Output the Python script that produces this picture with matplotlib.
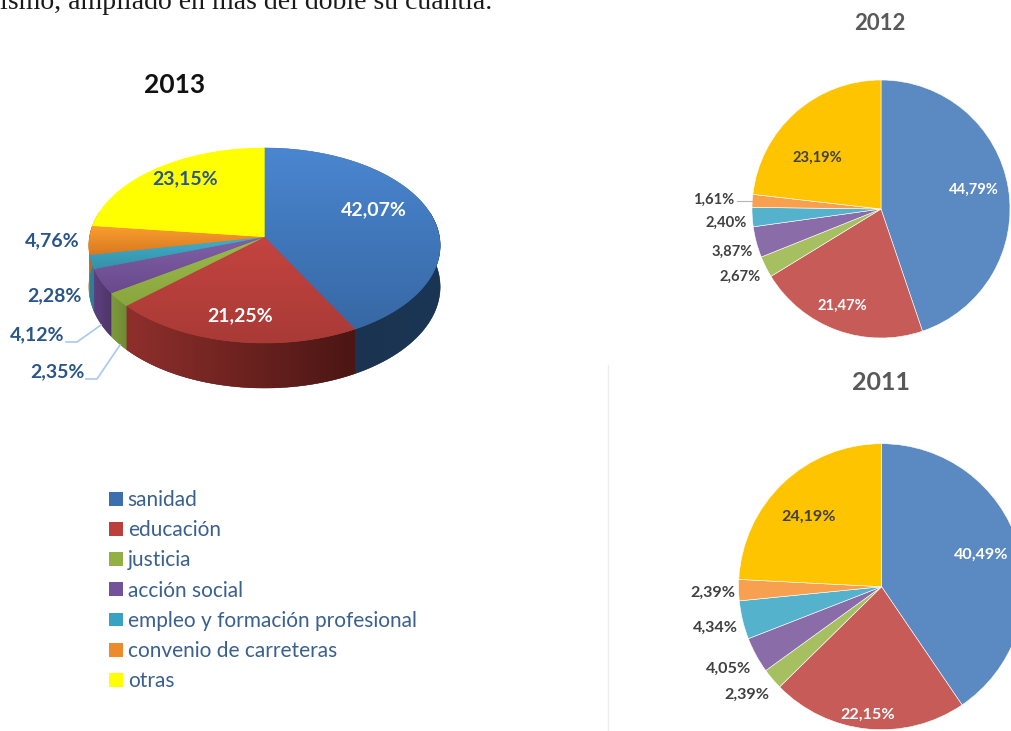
import numpy as np
import matplotlib
matplotlib.use('Agg')
import matplotlib.pyplot as plt
from matplotlib.colors import to_rgb
from matplotlib.patches import Patch

W, H = 1012, 731

categories = ['sanidad', 'educación', 'justicia', 'acción social',
              'empleo y formación profesional', 'convenio de carreteras', 'otras']
values_2013 = [42.07, 21.25, 2.35, 4.12, 2.28, 4.76, 23.15]
values_2012 = [44.79, 21.47, 2.67, 3.87, 2.40, 1.61, 23.19]
values_2011 = [40.49, 22.15, 2.39, 4.05, 4.34, 2.39, 24.19]

flat_colors = ['#5b8ac2', '#c65b58', '#a5bf61', '#8a6ca8', '#55b2cd', '#f7a04f', '#ffc400']
top_light = ['#4a86d0', '#c44440', '#9aba4a', '#8060a8', '#3fb0cc', '#fba030', '#ffff00']
top_dark = ['#3768a5', '#a93a36', '#8aa63f', '#6a4a8c', '#3590a8', '#d87820', '#ffff00']
wall_left = ['#1a3350', '#8f2f2c', '#7f9a3b', '#5d4080', '#2f7f96', '#b86a20', '#b0b000']
wall_right = ['#1b3655', '#4b1614', '#6f8a35', '#4d3568', '#2f7f96', '#b86a20', '#b0b000']
legend_colors = ['#3c6fae', '#bb403c', '#93b047', '#74529a', '#38a3c0', '#ec8a2c', '#ffff00']

fig = plt.figure(figsize=(W / 100, H / 100), dpi=100, facecolor='white')
plt.rcParams['font.family'] = ['Lato', 'DejaVu Sans']


def fmt(v):
    return f'{v:.2f}'.replace('.', ',') + '%'


def flat_pie(values, cx, cy, r):
    # pie axes placed by pixels, 2011 runs off the right edge like the original
    pax = fig.add_axes([(cx - r) / W, 1 - (cy + r) / H, 2 * r / W, 2 * r / H])
    pax.pie(values, colors=flat_colors, startangle=90, counterclock=False, radius=1,
            wedgeprops={'linewidth': 0.4, 'edgecolor': '#ffffff'})
    pax.set_xlim(-1, 1)
    pax.set_ylim(-1, 1)


flat_pie(values_2012, 881, 209, 129)
flat_pie(values_2011, 881.6, 586.7, 143)

ax = fig.add_axes([0, 0, 1, 1], zorder=5)
ax.patch.set_alpha(0)
ax.axis('off')

# 3d pie, perspective projection of a unit circle
CX, CY = 264.5, 237
A, B, K = 175, 96.8, 0.0872
WALL = 41


def project(theta):
    u = np.sin(theta)
    v = np.cos(theta)
    s = 1 / (1 + K * v)
    return CX + A * u * s, CY - B * v * s


def project_low(theta):
    x, y = project(theta)
    return x, y + WALL + 4 * (-np.cos(theta))


def shaded(xs, ys, c0, c1, horizontal, z):
    # polygon filled with a two colour gradient, image clipped to the polygon
    patch = ax.fill(xs, ys, color=c1, lw=0.3, zorder=z)[0]
    grad = np.linspace(np.array(to_rgb(c0)), np.array(to_rgb(c1)), 64)
    grad = grad[None, :, :] if horizontal else grad[:, None, :]
    im = ax.imshow(grad, extent=(xs.min(), xs.max(), ys.max(), ys.min()), aspect='auto',
                   interpolation='bilinear', zorder=z + 0.1)
    im.set_clip_path(patch)


edges = np.radians(np.cumsum([0] + values_2013) / sum(values_2013) * 360)

# walls first, the top surface covers whatever is at the back
for i in range(len(values_2013)):
    lo, hi = max(edges[i], np.radians(75)), min(edges[i + 1], np.radians(285))
    if hi <= lo:
        continue
    ts = np.linspace(lo, hi, 80)
    x_up, y_up = project(ts)
    x_low, y_low = project_low(ts)
    shaded(np.r_[x_up, x_low[::-1]], np.r_[y_up, y_low[::-1]],
           wall_left[i], wall_right[i], True, 2)

for i in range(len(values_2013)):
    ts = np.linspace(edges[i], edges[i + 1], 120)
    xs, ys = project(ts)
    shaded(np.r_[CX, xs], np.r_[CY, ys], top_light[i], top_dark[i], False, 3)

ax.set_xlim(0, W)
ax.set_ylim(H, 0)

# leader lines
ax.plot([66, 77, 101], [342, 342, 325], color='#a9c8ee', lw=1.2, zorder=4)
ax.plot([86, 97, 120], [379, 379, 345], color='#a9c8ee', lw=1.2, zorder=4)
ax.plot([737, 752], [201, 201], color='#b5b5b5', lw=0.8, zorder=4)
ax.plot([608, 608], [365, 731], color='#eeeeee', lw=1, zorder=1)

# body text cut off by the top of the page
ax.text(0, 9, 'ismo, ampliado en más del doble su cuantía.', family='Liberation Serif',
        fontsize=20, color='#1a1a1a', ha='left', va='baseline', clip_on=True)

# titles
ax.text(175, 85, '2013', fontsize=19, fontweight='bold', color='#111111', ha='center', va='center')
ax.text(880, 24, '2012', fontsize=16, fontweight='bold', color='#595959', ha='center', va='center')
ax.text(881, 382, '2011', fontsize=18, fontweight='bold', color='#595959', ha='center', va='center')

# data labels, same order as the categories
NAVY = '#2a5588'
pos_2013 = [(374, 210), (240, 316), (57, 372), (37, 335), (54, 296), (52, 241), (185, 179)]
col_2013 = ['white', 'white', NAVY, NAVY, NAVY, NAVY, NAVY]
for v, (x, y), c in zip(values_2013, pos_2013, col_2013):
    ax.text(x, y, fmt(v), fontsize=14, fontweight='bold', color=c, ha='center', va='center', zorder=6)

pos_2012 = [(974, 190), (842, 306), (740, 277), (732, 252), (726, 223), (714, 200), (817, 158)]
col_2012 = ['white', 'white', '#404040', '#404040', '#404040', '#404040', '#404040']
for v, (x, y), c in zip(values_2012, pos_2012, col_2012):
    ax.text(x, y, fmt(v), fontsize=10.6, fontweight='bold', color=c, ha='center', va='center', zorder=6)

pos_2011 = [(981, 555), (868, 715), (747, 695), (729, 669), (715, 628), (713, 593), (809, 517)]
col_2011 = ['white', 'white', '#404040', '#404040', '#404040', '#404040', '#404040']
for v, (x, y), c in zip(values_2011, pos_2011, col_2011):
    ax.text(x, y, fmt(v), fontsize=11.6, fontweight='bold', color=c, ha='center', va='center', zorder=6)

handles = [Patch(facecolor=c, edgecolor='none') for c in legend_colors]
ax.legend(handles, categories, loc='upper left', bbox_to_anchor=(109 / W, 1 - 490 / H),
          frameon=False, fontsize=15, labelcolor='#3a6090', labelspacing=0.49,
          handlelength=0.65, handleheight=0.65, handletextpad=0.25,
          borderpad=0, borderaxespad=0)

fig.savefig('out.png', dpi=100)
